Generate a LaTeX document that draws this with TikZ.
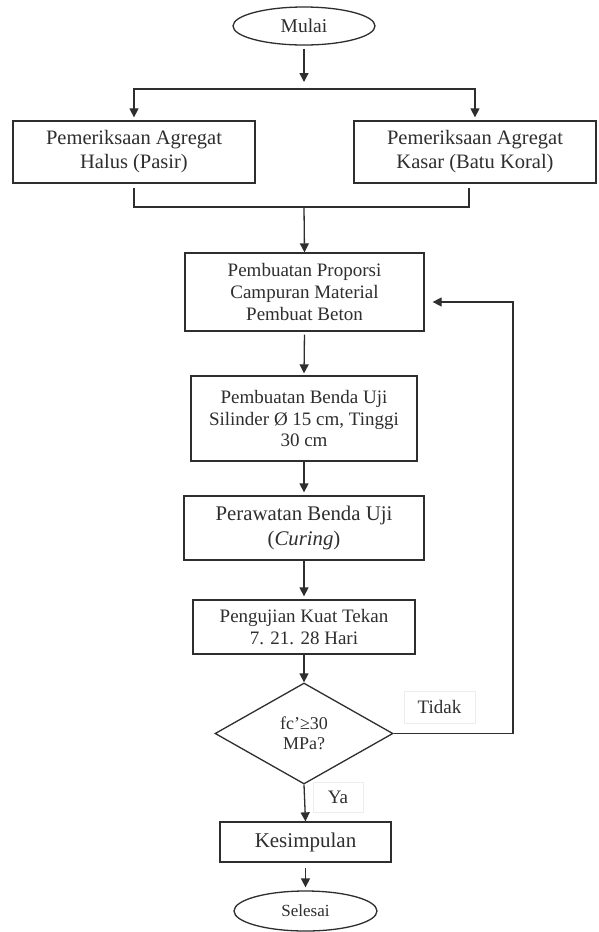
\documentclass[tikz,border=0pt]{standalone}
\usepackage{fontspec}
\setmainfont{Liberation Serif}
\usetikzlibrary{arrows.meta,shapes.geometric}
\definecolor{ink}{HTML}{2E2E2E}
\tikzset{
  procbox/.style={draw=ink, rectangle, inner sep=0pt, align=center, text=ink, line width=1.3pt},
  term/.style={draw=ink, ellipse, inner sep=0pt, text=ink, line width=1.3pt},
  decision/.style={draw=ink, diamond, inner sep=0pt, align=center, text=ink, line width=1.3pt},
  lbl/.style={draw=black!7, rectangle, inner sep=0pt, text=ink},
  conn/.style={draw=ink, line width=1.3pt},
  arr/.style={conn, -{Triangle[length=9pt,width=9pt]}},
}
\begin{document}
\begin{tikzpicture}[x=1pt,y=-1pt]
\useasboundingbox (0,0) rectangle (598,932);
\fill[white] (0,0) rectangle (598,932);

\node[term, minimum width=142pt, minimum height=38pt, font=\fontsize{19.5}{22}\selectfont] (mulai) at (304,26) {Mulai};
\coordinate (c1) at (304,82);
\coordinate (split) at (304,89);

\node[procbox, minimum width=242pt, minimum height=62pt, font=\fontsize{20.5}{24}\selectfont] (left) at (134,152) {Pemeriksaan Agregat\\Halus (Pasir)};
\node[procbox, minimum width=242pt, minimum height=62pt, font=\fontsize{20.5}{24}\selectfont] (right) at (475,152) {Pemeriksaan Agregat\\Kasar (Batu Koral)};
\coordinate (jm) at (304,207);

\node[procbox, minimum width=239pt, minimum height=78pt, font=\fontsize{19}{22}\selectfont] (prop) at (304.5,292) {Pembuatan Proporsi\\Campuran Material\\Pembuat Beton};
\node[procbox, minimum width=226pt, minimum height=85pt, font=\fontsize{19}{21.5}\selectfont] (benda) at (304,418.5) {Pembuatan Benda Uji\\Silinder Ø 15 cm, Tinggi\\30 cm};
\node[procbox, minimum width=240pt, minimum height=64pt, font=\fontsize{20.8}{25}\selectfont] (rawat) at (304,528) {Perawatan Benda Uji\\(\textit{Curing})};
\node[procbox, minimum width=222pt, minimum height=54pt, font=\fontsize{19}{22}\selectfont] (uji) at (304,627) {Pengujian Kuat Tekan\\7. 21. 28 Hari};
\node[decision, minimum width=178pt, minimum height=101pt, font=\fontsize{18}{20}\selectfont] (dec) at (304,733.5) {fc’≥30\\MPa?};
\node[procbox, minimum width=171pt, minimum height=40pt, font=\fontsize{21}{24}\selectfont] (kes) at (305.5,842) {Kesimpulan};
\node[term, minimum width=143pt, minimum height=40pt, font=\fontsize{17}{20}\selectfont] (sel) at (305.5,911) {Selesai};

\coordinate (lp) at (513,302);
\node[lbl, minimum width=71pt, minimum height=32pt, font=\fontsize{19}{22}\selectfont] (tidak) at (439.5,707) {Tidak};
\node[lbl, minimum width=50pt, minimum height=30pt, font=\fontsize{19}{22}\selectfont] (ya) at (338,797) {Ya};

% connectors
\draw[arr, shorten <=3pt] (mulai.south) -- (c1);
\draw[conn] (left.north |- split) -- (right.north |- split);
\draw[arr, shorten >=3pt] (split) -| (left.north);
\draw[arr, shorten >=3pt] (split) -| (right.north);
\draw[conn] ([yshift=-4pt]left.south) |- (jm) -| ([xshift=-6pt,yshift=-4pt]right.south);
\draw[arr] (jm) -- (prop.north);
\draw[arr, shorten <=3pt, shorten >=2pt] (prop.south) -- (benda.north);
\draw[arr, shorten >=3pt] (benda.south) -- (rawat.north);
\draw[arr, shorten >=3pt] (rawat.south) -- (uji.north);
\draw[arr] (uji.south) -- (dec.north);
\draw[arr] (dec.south) -- (kes.north);
\draw[arr, shorten <=5pt, shorten >=3pt] (kes.south) -- (sel.north);
\draw[arr, shorten >=8pt] (dec.east) -| (lp) -- (lp -| prop.east);
\end{tikzpicture}
\end{document}
